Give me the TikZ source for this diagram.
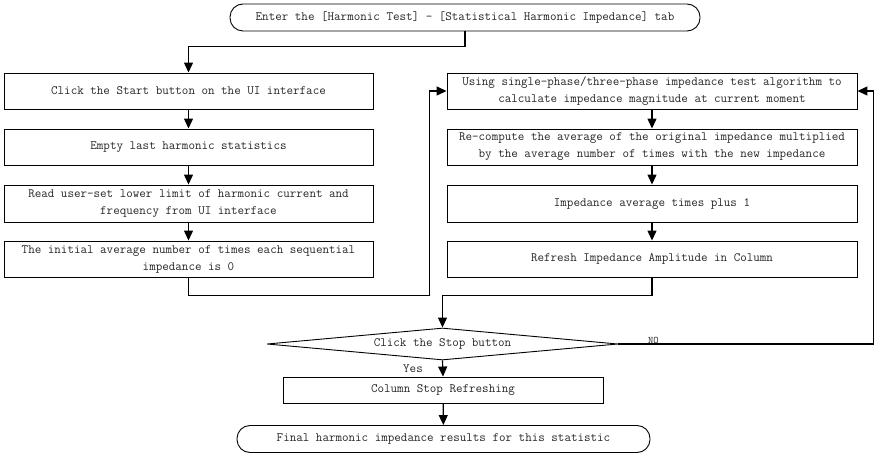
\documentclass[tikz,border=0pt]{standalone}
\usepackage{fontspec}
\usepackage{tikz}
\usetikzlibrary{shapes,shapes.geometric}
\usetikzlibrary{arrows.meta}
\tikzset{
  every node/.style={font=\fontsize{12.7}{17}\selectfont\ttfamily, text=black!85},
  term/.style={draw, line width=0.9pt, rounded corners=13pt, minimum height=27pt, inner sep=0pt},
  box/.style={draw, line width=0.9pt, minimum height=36pt, align=center, inner sep=0pt},
  lbox/.style={box, minimum width=369pt},
  rbox/.style={box, minimum width=410pt},
  decision/.style={draw, diamond, aspect=11, line width=0.9pt, minimum width=351pt, minimum height=32pt, inner sep=0pt},
  flow/.style={line width=1.2pt, -{Triangle[length=10pt,width=9pt]}}
}

\begin{document}
\begin{tikzpicture}[x=1pt,y=-1pt]
\useasboundingbox (0,0) rectangle (874,454);
\node[term, minimum width=470pt] (enter) at (465,17.5) {Enter the [Harmonic Test] - [Statistical Harmonic Impedance] tab};
\node[lbox] (start) at (188.5,91) {Click the Start button on the UI interface};
\node[lbox] (empty) at (188.5,147) {Empty last harmonic statistics};
\node[lbox, minimum height=37pt] (read) at (188.5,203.5) {Read user-set lower limit of harmonic current and\\frequency from UI interface};
\node[lbox] (init) at (188.5,259) {The initial average number of times each sequential\\impedance is 0};
\node[rbox] (calc) at (652,91) {Using single-phase/three-phase impedance test algorithm to\\calculate impedance magnitude at current moment};
\node[rbox] (recomp) at (652,147) {Re-compute the average of the original impedance multiplied\\by the average number of times with the new impedance};
\node[rbox, minimum height=37pt] (plus) at (652,203.5) {Impedance average times plus 1};
\node[rbox] (refresh) at (652,259) {Refresh Impedance Amplitude in Column};
\node[decision] (stop) at (442.5,344) {Click the Stop button};
\node[box, minimum width=320pt, minimum height=26pt] (colstop) at (443,390) {Column Stop Refreshing};
\node[term, minimum width=413pt] (final) at (443.5,439) {Final harmonic impedance results for this statistic};
% left column
\draw[flow] (enter.south) -- ++(0,15) -| (start.north);
\draw[flow] (start) -- (empty);
\draw[flow] (empty) -- (read);
\draw[flow] (read) -- (init);
\draw[flow] (init.south) -- ++(0,18) -| ([xshift=-17pt]calc.west) -- (calc.west);
% right column
\draw[flow] (calc) -- (recomp);
\draw[flow] (recomp) -- (plus);
\draw[flow] (plus) -- (refresh);
\draw[flow] (refresh.south) -- ++(0,18) -| (stop.north);
% decision
\draw[flow] (stop.south) -- node[left=16pt] {Yes} (colstop.north);
\draw[flow] (colstop) -- (final);
\draw[flow] (stop.east) -| ([xshift=16pt]calc.east) -- (calc.east);
\node[anchor=south, inner sep=0pt, font=\fontsize{10}{12}\selectfont\ttfamily] (no) at ([xshift=35pt]stop.east) {NO};
\end{tikzpicture}
\end{document}
